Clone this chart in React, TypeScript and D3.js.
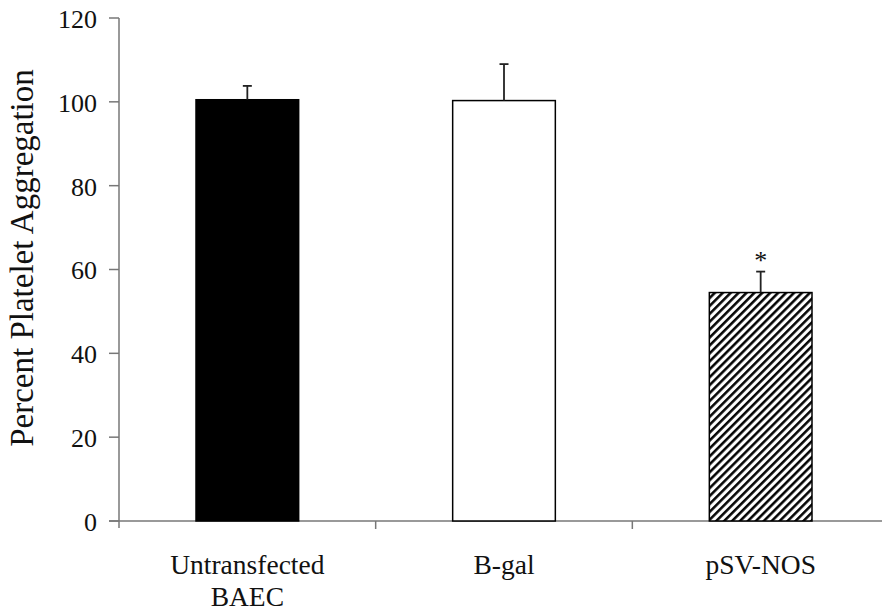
import React, { useEffect, useRef } from 'react'
import * as d3 from 'd3'

const categories = ['Untransfected|BAEC', 'B-gal', 'pSV-NOS']
const values = [100.5, 100.3, 54.5]
const errors = [3.3, 8.7, 5.0]
const fills = ['black', 'white', 'hatch']
const yTicks = [0, 20, 40, 60, 80, 100, 120]
const significant = [false, false, true]

const App = () => {
    const ref = useRef<SVGSVGElement>(null)

    useEffect(() => {
        const svg = d3.select(ref.current)
        svg.selectAll('*').remove()

        const width = 882
        const height = 612
        const left = 119
        const bottom = 521
        const top = 18
        const font = '"Liberation Serif", "Times New Roman", serif'

        const x = d3.scaleBand().domain(categories).range([left, 889]).padding(0)
        const y = d3.scaleLinear().domain([0, 120]).range([bottom, top])

        svg.attr('width', width).attr('height', height)

        const defs = svg.append('defs')
        const p = 5.6
        const pat = defs.append('pattern')
            .attr('id', 'hatch')
            .attr('patternUnits', 'userSpaceOnUse')
            .attr('width', p)
            .attr('height', p)
            .attr('patternTransform', 'rotate(45)')
        pat.append('rect').attr('width', p).attr('height', p).attr('fill', 'white')
        pat.append('line')
            .attr('x1', 1.3).attr('x2', 1.3)
            .attr('y1', 0).attr('y2', p)
            .attr('stroke', 'black')
            .attr('stroke-width', 2.5)

        const axisColor = '#777'

        // y axis
        const yAxis = svg.append('g')
        yAxis.append('line')
            .attr('x1', left).attr('x2', left)
            .attr('y1', top).attr('y2', bottom + 7)
            .attr('stroke', axisColor).attr('stroke-width', 1.5)
        yTicks.forEach(t => {
            yAxis.append('line')
                .attr('x1', left - 10).attr('x2', left)
                .attr('y1', y(t)).attr('y2', y(t))
                .attr('stroke', axisColor).attr('stroke-width', 1.5)
            yAxis.append('text')
                .attr('x', 97)
                .attr('y', y(t))
                .attr('dy', '0.38em')
                .attr('text-anchor', 'end')
                .attr('font-family', font)
                .attr('font-size', 26)
                .attr('fill', '#111')
                .text(t)
        })

        // x axis
        svg.append('line')
            .attr('x1', left - 10).attr('x2', width)
            .attr('y1', bottom).attr('y2', bottom)
            .attr('stroke', axisColor).attr('stroke-width', 1.5)
        categories.slice(1).forEach(c => {
            svg.append('line')
                .attr('x1', x(c)!).attr('x2', x(c)!)
                .attr('y1', bottom).attr('y2', bottom + 8)
                .attr('stroke', axisColor).attr('stroke-width', 1.5)
        })

        const bw = x.bandwidth()
        const barW = bw * 0.4

        // bars
        svg.selectAll('.bar')
            .data(categories)
            .join('rect')
            .attr('class', 'bar')
            .attr('x', d => x(d)! + (bw - barW) / 2)
            .attr('y', (d, i) => y(values[i]))
            .attr('width', barW)
            .attr('height', (d, i) => bottom - y(values[i]))
            .attr('fill', (d, i) => fills[i] === 'hatch' ? 'url(#hatch)' : fills[i])
            .attr('stroke', 'black')
            .attr('stroke-width', 1.5)

        // error bars (upper only)
        categories.forEach((c, i) => {
            const cx = x(c)! + bw / 2
            svg.append('line')
                .attr('x1', cx).attr('x2', cx)
                .attr('y1', y(values[i])).attr('y2', y(values[i] + errors[i]))
                .attr('stroke', '#222').attr('stroke-width', 1.8)
            svg.append('line')
                .attr('x1', cx - 4.5).attr('x2', cx + 4.5)
                .attr('y1', y(values[i] + errors[i])).attr('y2', y(values[i] + errors[i]))
                .attr('stroke', '#222').attr('stroke-width', 1.8)
            if (significant[i]) {
                svg.append('text')
                    .attr('x', cx)
                    .attr('y', y(values[i] + errors[i]) - 3)
                    .attr('text-anchor', 'middle')
                    .attr('font-family', font)
                    .attr('font-size', 26)
                    .attr('fill', '#111')
                    .text('*')
            }
        })

        // category labels
        categories.forEach(c => {
            const lines = c.split('|')
            const t = svg.append('text')
                .attr('text-anchor', 'middle')
                .attr('font-family', font)
                .attr('font-size', 27.5)
                .attr('fill', '#111')
            lines.forEach((l, j) => {
                t.append('tspan')
                    .attr('x', x(c)! + bw / 2)
                    .attr('y', 574 + j * 32)
                    .text(l)
            })
        })

        // y label
        svg.append('text')
            .attr('transform', `translate(33,258) rotate(-90)`)
            .attr('text-anchor', 'middle')
            .attr('font-family', font)
            .attr('font-size', 33)
            .attr('fill', '#111')
            .text('Percent Platelet Aggregation')
    }, [])

    return (
        <svg ref={ref} style={{ position: 'absolute', left: 0, top: 0, background: 'white' }} />
    )
}

export default App
